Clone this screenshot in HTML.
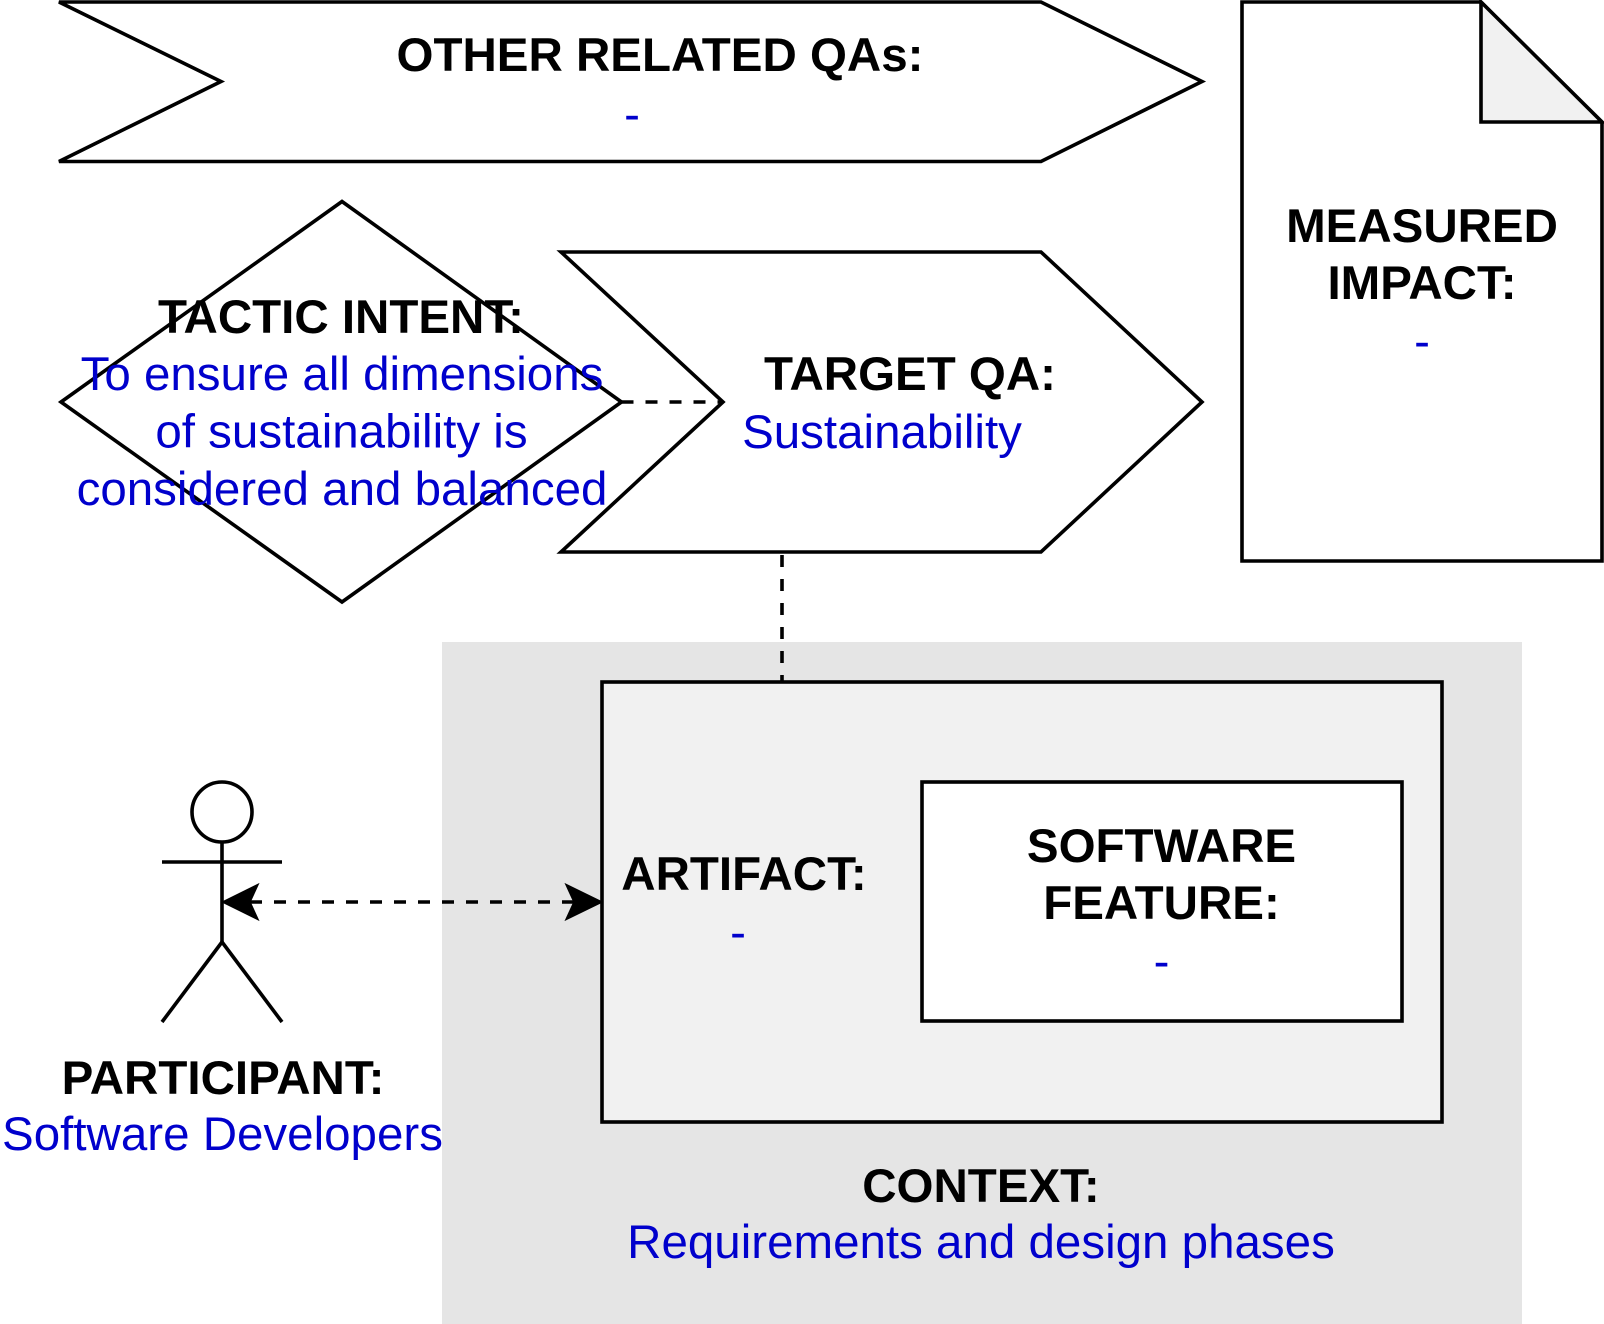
<!DOCTYPE html>
<html>
<head>
<meta charset="utf-8">
<style>
  html, body { margin: 0; padding: 0; background: #ffffff; }
  body { width: 1604px; height: 1324px; overflow: hidden; }
  svg { display: block; }
  text { font-family: "Liberation Sans", Arial, Helvetica, sans-serif; font-size: 47.5px; }
  .b { font-weight: bold; fill: #000000; }
  .v { fill: #0000cc; }
</style>
</head>
<body>
<svg width="1604" height="1324" viewBox="0 0 1604 1324" xmlns="http://www.w3.org/2000/svg">
  <!-- Context gray area -->
  <rect x="442" y="642" width="1080" height="682" fill="#e5e5e5"/>

  <!-- Top chevron: OTHER RELATED QAs -->
  <polygon points="59,161.5 221,81.5 59,2 1041,2 1202,81.5 1041,161.5" fill="#ffffff" stroke="#000" stroke-width="3.6" stroke-linejoin="miter"/>
  <text class="b" x="660" y="71" text-anchor="middle">OTHER RELATED QAs:</text>
  <text class="v" x="632" y="130" text-anchor="middle">-</text>

  <!-- Document: MEASURED IMPACT -->
  <path d="M1242,2 L1481,2 L1602,122 L1602,561 L1242,561 Z" fill="#ffffff" stroke="#000" stroke-width="3.6"/>
  <path d="M1481,2 L1481,122 L1602,122 Z" fill="#f1f1f1" stroke="#000" stroke-width="3.6" stroke-linejoin="miter"/>
  <text class="b" x="1422" y="242" text-anchor="middle">MEASURED</text>
  <text class="b" x="1422" y="299" text-anchor="middle">IMPACT:</text>
  <text class="v" x="1422" y="357" text-anchor="middle">-</text>

  <!-- Target QA chevron -->
  <polygon points="561,252 1041,252 1202,402 1041,552 561,552 723,402" fill="#ffffff" stroke="#000" stroke-width="3.6"/>
  <text class="b" x="910" y="390" text-anchor="middle">TARGET QA:</text>
  <text class="v" x="882" y="448" text-anchor="middle">Sustainability</text>

  <!-- Diamond: Tactic intent -->
  <polygon points="61,402 342,201.5 621.5,402 342,602" fill="#ffffff" stroke="#000" stroke-width="3.6"/>

  <!-- dashed connector diamond -> target -->
  <line x1="621.5" y1="402" x2="723" y2="402" stroke="#000" stroke-width="3.6" stroke-dasharray="12 12"/>

  <!-- Diamond text -->
  <text class="b" x="341" y="333" text-anchor="middle">TACTIC INTENT:</text>
  <text class="v" x="342" y="390" text-anchor="middle">To ensure all dimensions</text>
  <text class="v" x="341.5" y="447.5" text-anchor="middle">of sustainability is</text>
  <text class="v" x="342" y="505" text-anchor="middle">considered and balanced</text>

  <!-- dashed connector target -> artifact -->
  <line x1="782" y1="555" x2="782" y2="681" stroke="#000" stroke-width="3.6" stroke-dasharray="12 12"/>

  <!-- Artifact box -->
  <rect x="602" y="682" width="840" height="440" fill="#f1f1f1" stroke="#000" stroke-width="3.6"/>
  <text class="b" x="744" y="890" text-anchor="middle">ARTIFACT:</text>
  <text class="v" x="738" y="948" text-anchor="middle">-</text>

  <!-- Software feature box -->
  <rect x="922" y="782" width="480" height="239" fill="#ffffff" stroke="#000" stroke-width="3.6"/>
  <text class="b" x="1161.5" y="862" text-anchor="middle">SOFTWARE</text>
  <text class="b" x="1161.5" y="919" text-anchor="middle">FEATURE:</text>
  <text class="v" x="1161.5" y="977" text-anchor="middle">-</text>

  <!-- Context label -->
  <text class="b" x="981" y="1202" text-anchor="middle">CONTEXT:</text>
  <text class="v" x="981" y="1258" text-anchor="middle">Requirements and design phases</text>

  <!-- Stick figure -->
  <circle cx="222" cy="812" r="30" fill="#ffffff" stroke="#000" stroke-width="3.6"/>
  <line x1="222" y1="842" x2="222" y2="942" stroke="#000" stroke-width="3.6"/>
  <line x1="162" y1="862" x2="282" y2="862" stroke="#000" stroke-width="3.6"/>
  <line x1="222" y1="942" x2="162" y2="1022" stroke="#000" stroke-width="3.6"/>
  <line x1="222" y1="942" x2="282" y2="1022" stroke="#000" stroke-width="3.6"/>

  <!-- Bidirectional dashed arrow -->
  <line x1="250" y1="902" x2="574" y2="902" stroke="#000" stroke-width="3.6" stroke-dasharray="12 12"/>
  <path d="M602,902 L566,884.5 L574,902 L566,919.5 Z" fill="#000" stroke="#000" stroke-width="1.5" stroke-linejoin="miter"/>
  <path d="M222.5,902 L258,884.5 L250,902 L258,919.5 Z" fill="#000" stroke="#000" stroke-width="1.5" stroke-linejoin="miter"/>

  <!-- Participant label -->
  <text class="b" x="223" y="1094" text-anchor="middle">PARTICIPANT:</text>
  <text class="v" x="222.5" y="1150" text-anchor="middle">Software Developers</text>
</svg>
</body>
</html>
